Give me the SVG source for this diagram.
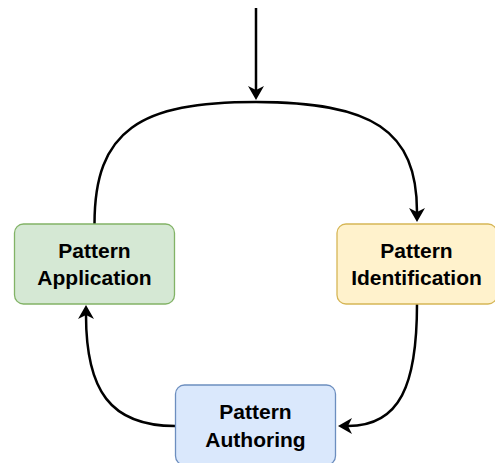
<svg xmlns="http://www.w3.org/2000/svg" width="495" height="463" viewBox="0 0 495 463">
<style>
.box{stroke-width:1.3}
.lbl{font-family:"Liberation Sans",Arial,sans-serif;font-weight:bold;font-size:21px;fill:#000;text-anchor:middle}
.edge{fill:none;stroke:#000;stroke-width:2.5}
</style>
<defs>
<marker id="arr" viewBox="-15 -9 16 18" refX="-10" refY="0" markerWidth="16" markerHeight="18" orient="auto" markerUnits="userSpaceOnUse">
<path d="M0,0 L-14,-8 L-10,0 L-14,8 Z" fill="#000"/>
</marker>
</defs>
<rect width="495" height="463" fill="#fff"/>
<g id="connectors">
<path class="edge" d="M256 8 L256 90" marker-end="url(#arr)"/>
<path class="edge" d="M94.5 224 C94.5 130 140 102 256 102 C372 102 417 130 417 212" marker-end="url(#arr)"/>
<path class="edge" d="M417 304 C417 385 400 426 348 426" marker-end="url(#arr)"/>
<path class="edge" d="M175 426 C110 426 86 390 86 315" marker-end="url(#arr)"/>
</g>
<g id="application">
<rect class="box" x="14.5" y="224" width="160" height="80" rx="9" fill="#d5e8d4" stroke="#82b366"/>
<text class="lbl" x="94.5" y="258">Pattern</text>
<text class="lbl" x="94.5" y="285">Application</text>
</g>
<g id="identification">
<rect class="box" x="337" y="224" width="160" height="80" rx="9" fill="#fff2cc" stroke="#d6b656"/>
<text class="lbl" x="416.5" y="258">Pattern</text>
<text class="lbl" x="416.5" y="285">Identification</text>
</g>
<g id="authoring">
<rect class="box" x="175.5" y="385" width="160" height="80" rx="9" fill="#dae8fc" stroke="#6c8ebf"/>
<text class="lbl" x="255.5" y="419">Pattern</text>
<text class="lbl" x="255.5" y="446.5">Authoring</text>
</g>
</svg>
